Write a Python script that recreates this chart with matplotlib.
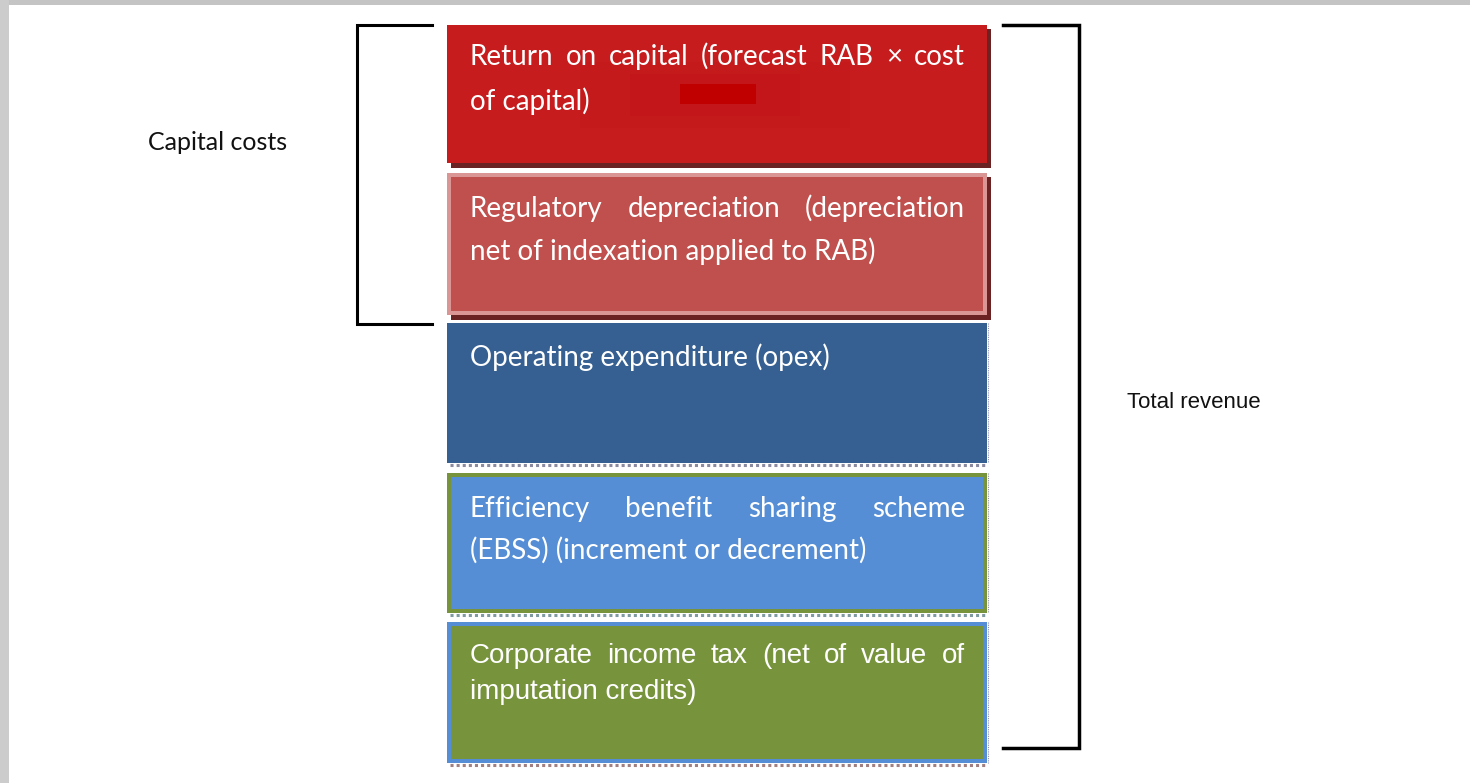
import matplotlib
matplotlib.use("Agg")
import matplotlib.pyplot as plt
from matplotlib.patches import Rectangle

# building blocks of total revenue, top to bottom (lines as wrapped in the picture)
box_lines = [
    ["Return on capital (forecast RAB × cost", "of capital)"],
    ["Regulatory depreciation (depreciation", "net of indexation applied to RAB)"],
    ["Operating expenditure (opex)"],
    ["Efficiency benefit sharing scheme", "(EBSS) (increment or decrement)"],
    ["Corporate income tax (net of value of", "imputation credits)"],
]
box_fill = ["#C61C1E", "#C0504D", "#366092", "#558ED5", "#77933C"]
box_edge = ["#C61C1E", "#DA9694", "#366092", "#77933C", "#558ED5"]
box_font = ["Lato", "Lato", "Lato", "Lato", "Liberation Sans"]
bracket_labels = ["Capital costs", "Total revenue"]

# layout in pixels (y measured from the top)
tops = [25, 173, 323, 473, 622]
bottoms = [163, 315, 463, 613, 763]
first_base = [65, 217, 366, 517, 663]
line_step = [45, 43, 43, 42, 36]

fig = plt.figure(figsize=(14.7, 7.83), dpi=100)
ax = fig.add_axes([0, 0, 1, 1])
ax.set_xlim(0, 1470)
ax.set_ylim(783, 0)
ax.axis("off")

# grey frame of the screenshot
ax.add_patch(Rectangle((0, 0), 1470, 5, color="#C4C4C4", lw=0))
ax.add_patch(Rectangle((0, 0), 9, 783, color="#CCCCCC", lw=0))

renderer = fig.canvas.get_renderer()


def justified(lines, x0, x1, base, step, family, size):
    for i, line in enumerate(lines):
        y = base + i * step
        words = line.split()
        last = i == len(lines) - 1
        if last or len(words) == 1:
            ax.text(x0, y, line, color="white", fontsize=size, family=family,
                    va="baseline", ha="left", zorder=4)
            continue
        widths = []
        for w in words:
            t = ax.text(0, 0, w, fontsize=size, family=family)
            widths.append(t.get_window_extent(renderer).width)
            t.remove()
        gap = (x1 - x0 - sum(widths)) / (len(words) - 1)
        x = x0
        for w, wd in zip(words, widths):
            ax.text(x, y, w, color="white", fontsize=size, family=family,
                    va="baseline", ha="left", zorder=4)
            x += wd + gap


dot_colors = ["#8A8AA0", "#7F9AA0", "#A08080"]
for i in range(len(box_lines)):
    x0, x1 = 447, 987
    top, bot = tops[i], bottoms[i]
    if i < 2:
        # drop shadow
        ax.add_patch(Rectangle((x0 + 4, top + 4), x1 - x0, bot - top + 1,
                               color="#6A2222", lw=0, zorder=1))
    else:
        ax.plot([x0 + 3, x1], [bot + 2, bot + 2], ls=(0, (1, 1)), lw=2.2,
                color=dot_colors[i - 2], zorder=1)
        ax.plot([x1 + 1, x1 + 1], [top, bot], ls=(0, (1, 1)), lw=0.8,
                color="#9090A8", zorder=1)
    ew = 0 if i in (0, 2) else 4
    ax.add_patch(Rectangle((x0, top), x1 - x0, bot - top, color=box_edge[i],
                           lw=0, zorder=2))
    ax.add_patch(Rectangle((x0 + ew, top + ew), x1 - x0 - 2 * ew,
                           bot - top - 2 * ew, color=box_fill[i], lw=0, zorder=2))
    if i == 0:
        # soft darker patch in the middle of the red box
        ax.add_patch(Rectangle((580, 62), 270, 66, color="#C51A1C", lw=0, zorder=3))
        ax.add_patch(Rectangle((630, 74), 170, 42, color="#C2161A", lw=0, zorder=3))
        ax.add_patch(Rectangle((680, 84), 76, 20, color="#C00000", lw=0, zorder=3))
    justified(box_lines[i], 470, 965, first_base[i], line_step[i],
              box_font[i], 20)

# brackets
ax.plot([432, 357, 357, 432], [25, 25, 324, 324], color="black", lw=2.2,
        solid_joinstyle="miter")
ax.plot([1003, 1079, 1079, 1003], [25, 25, 748, 748], color="black", lw=2.5,
        solid_joinstyle="miter")

ax.text(148, 143, bracket_labels[0], fontsize=18, family="Lato",
        va="center", ha="left", color="#111111")
ax.text(1127, 403, bracket_labels[1], fontsize=16, family="Liberation Sans",
        va="center", ha="left", color="#111111")

fig.savefig("out.png", dpi=100)
